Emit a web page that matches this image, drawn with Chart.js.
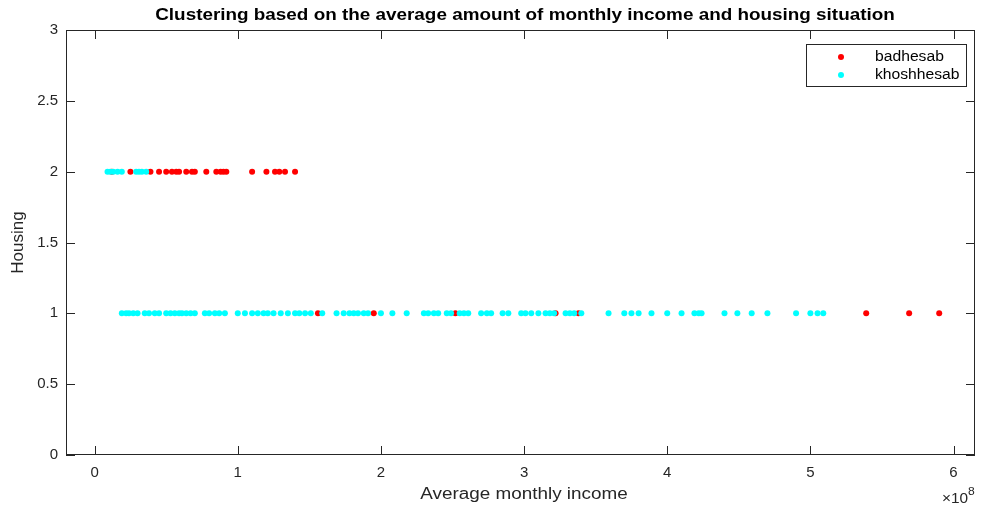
<!DOCTYPE html>
<html>
<head>
<meta charset="utf-8">
<script src="https://cdn.jsdelivr.net/npm/chart.js@4.4.0/dist/chart.umd.min.js"></script>
<style>
html, body { margin: 0; padding: 0; background: #fff; }
</style>
</head>
<body>
<canvas id="myChart" width="983" height="506"></canvas>
<script>
var chartTitle = 'Clustering based on the average amount of monthly income and housing situation';
var xAxisTitle = 'Average monthly income';
var yAxisTitle = 'Housing';
var seriesNames = ['badhesab', 'khoshhesab'];
var seriesColors = ['#ff0000', '#00ffff'];

// income values are in units of 1e8 (axis shows x10^8)
var badIncomeHousing2 = [0.12, 0.25, 0.39, 0.45, 0.50, 0.54, 0.57, 0.59, 0.64, 0.68, 0.70, 0.78,
    0.85, 0.88, 0.90, 0.92, 1.10, 1.20, 1.26, 1.29, 1.33, 1.40];
var goodIncomeHousing2 = [0.09, 0.11, 0.13, 0.16, 0.19, 0.29, 0.31, 0.33, 0.36];
var badIncomeHousing1 = [1.56, 1.95, 2.52, 3.22, 3.38, 5.39, 5.69, 5.90];
var goodIncomeHousing1 = [0.19, 0.22, 0.24, 0.27, 0.30, 0.35, 0.38, 0.42, 0.45, 0.50, 0.53, 0.56,
    0.59, 0.61, 0.64, 0.67, 0.70, 0.77, 0.80, 0.84, 0.87, 0.91, 1.00, 1.05, 1.10, 1.14, 1.18,
    1.21, 1.25, 1.30, 1.35, 1.40, 1.43, 1.47, 1.51, 1.59, 1.69, 1.74, 1.78, 1.81, 1.84, 1.88,
    1.91, 2.00, 2.08, 2.18, 2.30, 2.33, 2.37, 2.40, 2.46, 2.49, 2.55, 2.58, 2.61, 2.70, 2.74,
    2.77, 2.85, 2.89, 2.98, 3.01, 3.05, 3.10, 3.15, 3.18, 3.21, 3.29, 3.32, 3.35, 3.40, 3.59,
    3.70, 3.75, 3.80, 3.89, 4.00, 4.10, 4.19, 4.22, 4.24, 4.40, 4.49, 4.59, 4.70, 4.90, 5.00,
    5.05, 5.09];
var xTicks = [0, 1, 2, 3, 4, 5, 6];
var yTicks = [0, 0.5, 1, 1.5, 2, 2.5, 3];

function toPoints(incomes, housing) {
    var pts = [];
    for (var i = 0; i < incomes.length; i++) {
        pts.push({ x: incomes[i], y: housing });
    }
    return pts;
}

var axisColor = '#262626';
var fontFamily = '"Liberation Sans", Arial, sans-serif';

// draw text stretched horizontally around x (reference text is wider than the font)
function wideText(ctx, text, x, y, align, stretch) {
    ctx.save();
    ctx.translate(x, y);
    ctx.scale(stretch, 1);
    ctx.textAlign = align;
    ctx.fillText(text, 0, 0);
    var w = ctx.measureText(text).width * stretch;
    ctx.restore();
    return w;
}

// MATLAB style box with inward ticks, title, legend and exponent
var matlabLook = {
    id: 'matlabLook',
    afterDraw: function (chart) {
        var ctx = chart.ctx;
        var a = chart.chartArea;
        var xs = chart.scales.x;
        var ys = chart.scales.y;
        ctx.save();
        ctx.strokeStyle = axisColor;
        ctx.lineWidth = 1;
        ctx.strokeRect(a.left + 0.5, a.top + 0.5, a.right - a.left - 1, a.bottom - a.top - 1);
        ctx.beginPath();
        xTicks.forEach(function (t) {
            var px = Math.round(xs.getPixelForValue(t)) + 0.5;
            ctx.moveTo(px, a.bottom); ctx.lineTo(px, a.bottom - 9);
            ctx.moveTo(px, a.top); ctx.lineTo(px, a.top + 9);
        });
        yTicks.forEach(function (t) {
            var py = Math.round(ys.getPixelForValue(t)) + 0.5;
            ctx.moveTo(a.left, py); ctx.lineTo(a.left + 9, py);
            ctx.moveTo(a.right, py); ctx.lineTo(a.right - 9, py);
        });
        ctx.stroke();

        // title
        ctx.fillStyle = '#000';
        ctx.font = 'bold 16px ' + fontFamily;
        ctx.textBaseline = 'middle';
        wideText(ctx, chartTitle, 525, 16, 'center', 1.18);

        // x axis title
        ctx.fillStyle = axisColor;
        ctx.font = '16px ' + fontFamily;
        wideText(ctx, xAxisTitle, 524, 495, 'center', 1.18);

        // exponent label
        ctx.textBaseline = 'alphabetic';
        ctx.font = '14px ' + fontFamily;
        var w = wideText(ctx, '\u00d710', 942, 503, 'left', 1.1);
        ctx.font = '11px ' + fontFamily;
        wideText(ctx, '8', 942 + w, 495, 'left', 1.1);

        // legend
        var lx = 806, ly = 44, lw = 160, lh = 42;
        ctx.fillStyle = '#fff';
        ctx.fillRect(lx, ly, lw, lh);
        ctx.strokeStyle = axisColor;
        ctx.strokeRect(lx + 0.5, ly + 0.5, lw, lh);
        ctx.font = '14px ' + fontFamily;
        ctx.textBaseline = 'middle';
        for (var i = 0; i < seriesNames.length; i++) {
            var cy = ly + 13 + i * 18;
            ctx.fillStyle = seriesColors[i];
            ctx.beginPath();
            ctx.arc(841, cy, 3, 0, Math.PI * 2);
            ctx.fill();
            ctx.fillStyle = '#000';
            wideText(ctx, seriesNames[i], 875, cy, 'left', 1.12);
        }
        ctx.restore();
    }
};

var ctx = document.getElementById('myChart');
var myChart = new Chart(ctx, {
    type: 'scatter',
    data: {
        datasets: [{
            label: seriesNames[0],
            data: toPoints(badIncomeHousing2, 2).concat(toPoints(badIncomeHousing1, 1)),
            backgroundColor: seriesColors[0],
            borderWidth: 0,
            pointRadius: 3,
            order: 1
        }, {
            label: seriesNames[1],
            data: toPoints(goodIncomeHousing2, 2).concat(toPoints(goodIncomeHousing1, 1)),
            backgroundColor: seriesColors[1],
            borderWidth: 0,
            pointRadius: 3,
            order: 0
        }]
    },
    options: {
        responsive: false,
        animation: false,
        layout: { padding: { top: 30, right: 8, left: 0, bottom: 0 } },
        plugins: {
            legend: { display: false },
            tooltip: { enabled: false }
        },
        scales: {
            x: {
                type: 'linear',
                min: -0.2,
                max: 6.15,
                afterBuildTicks: function (scale) {
                    scale.ticks = xTicks.map(function (v) { return { value: v }; });
                },
                afterFit: function (scale) { scale.height = 51; },
                grid: { display: false, drawTicks: false },
                border: { display: false },
                ticks: {
                    padding: 9,
                    color: axisColor,
                    font: { family: fontFamily, size: 15 },
                    maxRotation: 0,
                    callback: function (v) { return String(v); }
                },
                title: { display: false }
            },
            y: {
                type: 'linear',
                min: 0,
                max: 3,
                afterBuildTicks: function (scale) {
                    scale.ticks = yTicks.map(function (v) { return { value: v }; });
                },
                afterFit: function (scale) { scale.width = 66; },
                grid: { display: false, drawTicks: false },
                border: { display: false },
                ticks: {
                    padding: 8,
                    color: axisColor,
                    font: { family: fontFamily, size: 15 },
                    callback: function (v) { return String(v); }
                },
                title: {
                    display: true,
                    text: yAxisTitle,
                    color: axisColor,
                    font: { family: fontFamily, size: 17 },
                    padding: { top: 8, bottom: 0 }
                }
            }
        }
    },
    plugins: [matlabLook]
});
</script>
</body>
</html>
